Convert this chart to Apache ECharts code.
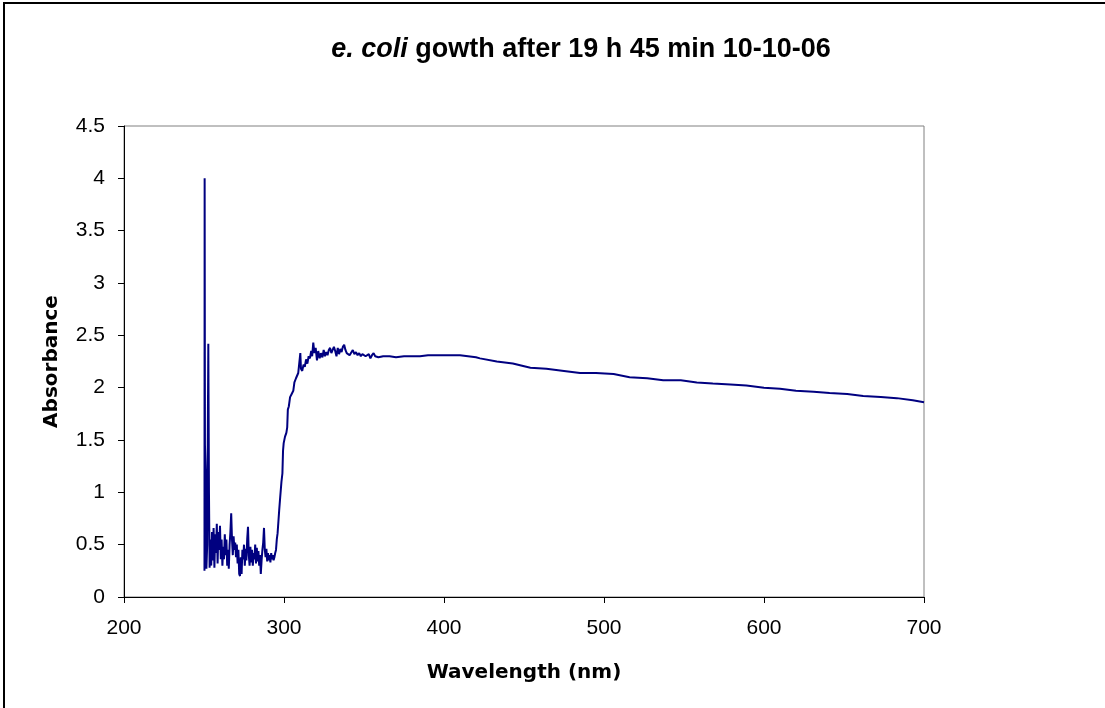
<!DOCTYPE html>
<html>
<head>
<meta charset="utf-8">
<title>e. coli growth spectrum</title>
<script src="https://cdn.jsdelivr.net/npm/echarts@6/dist/echarts.min.js"></script>
<style>
  html, body { margin: 0; padding: 0; background: #fff; }
  #chart { width: 1105px; height: 708px; }
</style>
</head>
<body>
<div id="chart"></div>
<script>
// wavelength (nm) and absorbance
var wavelengths = [
    250.3, 250.4, 250.6, 251.2, 251.5, 252.0, 252.7, 253.1,
    253.5, 254.0, 254.5, 255.0, 255.5, 256.0, 256.5, 257.0, 257.5, 258.0,
    258.5, 259.0, 259.5, 260.0, 260.5, 261.0, 261.5, 262.0, 262.5, 263.0,
    263.5, 264.0, 264.5, 265.0, 265.5, 266.0, 266.5, 267.0, 267.5, 268.0,
    268.5, 269.0, 269.5, 270.0, 270.5, 271.0, 271.5, 272.0, 272.5, 273.0,
    273.5, 274.0, 274.5, 275.0, 275.5, 276.0, 276.5, 277.0, 277.5, 278.0,
    278.5, 279.0, 279.5, 280.0, 280.5, 281.0, 281.5, 282.0, 282.5, 283.0,
    283.5, 284.0, 284.5, 285.0, 285.5, 286.0, 286.5, 287.0, 287.5, 288.0,
    288.5, 289.0, 289.5, 290.0, 290.5, 291.0, 291.5, 292.0, 292.5, 293.0,
    293.5, 294.0, 294.5, 295.0, 295.5, 296.0,
    296.5, 297.0, 297.6, 298.4, 299.0, 299.4, 299.8, 300.6, 301.5, 302.0,
    302.4, 303.0, 303.8, 304.8, 305.8, 306.5, 307.5, 308.2, 308.9, 309.6,
    310.2, 310.6, 311.4, 312.2, 313.0, 313.8, 314.6, 315.4, 316.2, 317.0,
    317.6, 318.3, 319.0, 319.8, 320.6, 321.4, 322.3, 323.1, 324.0, 324.8,
    325.6, 326.4, 327.2, 328.0, 328.8, 329.6, 330.4, 331.2, 332.0, 332.8,
    333.6, 334.4, 335.2, 336.0, 336.8, 337.6, 338.4, 339.2, 340.0, 341.0,
    342.0, 343.0, 344.0, 345.0, 346.0, 347.0, 348.0, 349.0, 350.0, 351.0,
    352.0, 353.0, 354.0, 355.0, 356.0, 357.0, 358.0, 359.0, 360.0,
    362, 366, 370, 375, 380, 385, 390, 395, 400, 405, 410, 415, 420,
    422.5, 433, 443, 454, 464, 475, 485, 495, 506, 516, 527, 537, 548,
    558, 568, 579, 589, 600, 610, 620, 631, 641, 652, 662, 673, 683, 693, 700
];
var absorbance = [
    0.25, 4.00, 1.45, 1.10, 0.27, 0.50, 2.42, 1.00,
    0.28, 0.55, 0.30, 0.62, 0.35, 0.66, 0.28, 0.60, 0.42, 0.70,
    0.32, 0.62, 0.45, 0.68, 0.36, 0.55, 0.30, 0.48, 0.36, 0.60,
    0.40, 0.55, 0.30, 0.45, 0.27, 0.50, 0.62, 0.80, 0.55, 0.40,
    0.58, 0.45, 0.52, 0.38, 0.50, 0.32, 0.45, 0.22, 0.20, 0.38,
    0.22, 0.45, 0.36, 0.50, 0.30, 0.46, 0.35, 0.55, 0.67, 0.40,
    0.30, 0.48, 0.33, 0.45, 0.30, 0.42, 0.36, 0.50, 0.32, 0.47,
    0.34, 0.44, 0.30, 0.40, 0.22, 0.35, 0.45, 0.52, 0.66, 0.45,
    0.38, 0.46, 0.34, 0.42, 0.35, 0.40, 0.33, 0.42, 0.36, 0.40,
    0.35, 0.38, 0.42, 0.45, 0.55, 0.61,
    0.72, 0.83, 0.95, 1.10, 1.18, 1.40, 1.47, 1.53, 1.57, 1.62,
    1.79, 1.82, 1.91, 1.94, 1.97, 2.05, 2.09, 2.08, 2.14, 2.15,
    2.33, 2.18, 2.16, 2.22, 2.20, 2.27, 2.23, 2.30, 2.28, 2.35,
    2.30, 2.43, 2.33, 2.38, 2.26, 2.35, 2.28, 2.33, 2.29, 2.36,
    2.30, 2.34, 2.31, 2.36, 2.38, 2.33, 2.36, 2.39, 2.35, 2.30,
    2.38, 2.32, 2.37, 2.34, 2.39, 2.41, 2.36, 2.33, 2.34, 2.31,
    2.32, 2.36, 2.32, 2.34, 2.31, 2.33, 2.30, 2.32, 2.33, 2.30,
    2.31, 2.32, 2.28, 2.31, 2.33, 2.30, 2.31, 2.29, 2.30,
    2.30, 2.30, 2.29, 2.30, 2.30, 2.30, 2.31, 2.31, 2.31, 2.31, 2.31, 2.30, 2.29,
    2.28, 2.25, 2.23, 2.19, 2.18, 2.16, 2.14, 2.14, 2.13, 2.10, 2.09, 2.07, 2.07,
    2.05, 2.04, 2.03, 2.02, 2.00, 1.99, 1.97, 1.96, 1.95, 1.94, 1.92, 1.91, 1.90, 1.88, 1.86
];

var titleText = '{i|e. coli} gowth after 19 h 45 min 10-10-06';
var xName = 'Wavelength (nm)';
var yName = 'Absorbance';

var font = 'DejaVu Sans';
var tickFont = 'Liberation Sans';

var dom = document.getElementById("chart");
var myChart = echarts.init(dom);

var points = [];
for (var i = 0; i < wavelengths.length; i++) {
    points.push([wavelengths[i], absorbance[i]]);
}

var option = {
    animation: false,
    backgroundColor: '#fff',
    graphic: [{
        type: 'rect',
        shape: { x: 4, y: 3, width: 1300, height: 900 },
        style: { fill: 'none', stroke: '#000', lineWidth: 2 },
        silent: true
    }, {
        type: 'text',
        x: 581,
        y: 50,
        style: {
            text: titleText,
            fill: '#000',
            fontFamily: tickFont,
            fontSize: 27,
            fontWeight: 'bold',
            align: 'center',
            verticalAlign: 'middle',
            rich: {
                i: { fontStyle: 'italic', fontWeight: 'bold', fontSize: 27, fontFamily: tickFont }
            }
        }
    }],
    grid: {
        left: 124,
        right: 181,
        top: 126,
        bottom: 111,
        show: true,
        borderColor: '#808080',
        borderWidth: 1
    },
    xAxis: {
        type: 'value',
        min: 200,
        max: 700,
        interval: 100,
        name: xName,
        nameLocation: 'middle',
        nameGap: 66,
        nameTextStyle: { fontFamily: font, fontSize: 20, fontWeight: 'bold', color: '#000' },
        axisLine: { show: true, lineStyle: { color: '#000', width: 1 } },
        axisTick: { show: true, length: 6, lineStyle: { color: '#000' } },
        axisLabel: { margin: 21, fontFamily: tickFont, fontSize: 21, color: '#000' },
        splitLine: { show: false }
    },
    yAxis: {
        type: 'value',
        min: 0,
        max: 4.5,
        interval: 0.5,
        name: yName,
        nameLocation: 'middle',
        nameGap: 62,
        nameRotate: 90,
        nameTextStyle: { fontFamily: font, fontSize: 20, fontWeight: 'bold', color: '#000' },
        axisLine: { show: true, lineStyle: { color: '#000', width: 1 } },
        axisTick: { show: true, length: 6, lineStyle: { color: '#000' } },
        axisLabel: { margin: 19, fontFamily: tickFont, fontSize: 21, color: '#000' },
        splitLine: { show: false }
    },
    series: [{
        type: 'line',
        data: points,
        showSymbol: false,
        symbol: 'none',
        lineStyle: { color: '#000080', width: 2 }
    }]
};

myChart.setOption(option);

window.onresize = function () {
    myChart.resize();
};
</script>
</body>
</html>
